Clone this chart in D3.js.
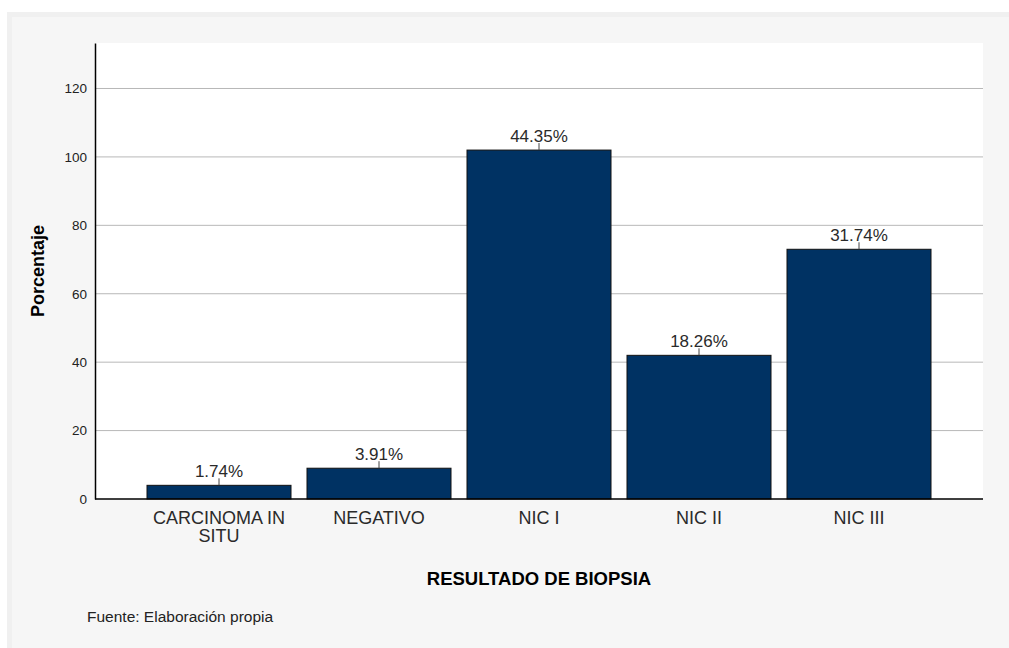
<!DOCTYPE html>
<html>
<head>
<meta charset="utf-8">
<script src="https://cdn.jsdelivr.net/npm/d3@7"></script>
<style>
body { margin: 0; background: #fff; }
svg text { font-family: "Liberation Sans", Arial, sans-serif; fill: #2a2a2a; }
</style>
</head>
<body>
<svg width="1009" height="648"></svg>
<script>
// data (counts, percentages shown as labels)
var categories = ["CARCINOMA IN SITU", "NEGATIVO", "NIC I", "NIC II", "NIC III"];
var counts = [4, 9, 102, 42, 73];
var pctLabels = ["1.74%", "3.91%", "44.35%", "18.26%", "31.74%"];
var yTicks = [0, 20, 40, 60, 80, 100, 120];

var svg = d3.select("svg"),
    plotL = 95, plotR = 983, plotT = 43, plotB = 499;

// outer panel
svg.append("rect").attr("x", 7).attr("y", 12).attr("width", 1002).attr("height", 636)
  .attr("fill", "#f0f0f0");
svg.append("rect").attr("x", 12).attr("y", 17).attr("width", 997).attr("height", 631)
  .attr("fill", "#f6f6f6");
// plot area
svg.append("rect").attr("x", plotL).attr("y", plotT).attr("width", plotR - plotL).attr("height", plotB - plotT)
  .attr("fill", "#fff");

var x = d3.scaleBand().domain(categories).range([plotL, plotR]).paddingInner(0.1).paddingOuter(0.325);
var y = d3.scaleLinear().domain([0, 133.3]).range([plotB, plotT]);

// grid lines
svg.append("g").selectAll("line").data(yTicks.filter(function(d) { return d > 0; }))
  .enter().append("line")
  .attr("x1", plotL).attr("x2", plotR)
  .attr("y1", function(d) { return y(d); }).attr("y2", function(d) { return y(d); })
  .attr("stroke", "#b8b8b8").attr("stroke-width", 1);

var data = categories.map(function(c, i) { return {cat: c, n: counts[i], lab: pctLabels[i]}; });

svg.append("g").selectAll("rect").data(data).enter().append("rect")
  .attr("x", function(d) { return x(d.cat); })
  .attr("y", function(d) { return y(d.n); })
  .attr("width", x.bandwidth())
  .attr("height", function(d) { return plotB - y(d.n); })
  .attr("fill", "#003263").attr("stroke", "#111").attr("stroke-width", 1);

// connectors + value labels
svg.append("g").selectAll("line").data(data).enter().append("line")
  .attr("x1", function(d) { return x(d.cat) + x.bandwidth() / 2; })
  .attr("x2", function(d) { return x(d.cat) + x.bandwidth() / 2; })
  .attr("y1", function(d) { return y(d.n) - 7; })
  .attr("y2", function(d) { return y(d.n); })
  .attr("stroke", "#444");
svg.append("g").selectAll("text").data(data).enter().append("text")
  .attr("x", function(d) { return x(d.cat) + x.bandwidth() / 2; })
  .attr("y", function(d) { return y(d.n) - 8; })
  .attr("text-anchor", "middle").attr("font-size", 17)
  .text(function(d) { return d.lab; });

// y axis
var yAxis = svg.append("g").attr("transform", "translate(" + plotL + ",0)")
  .call(d3.axisLeft(y).tickValues(yTicks).tickSize(0).tickPadding(8));
yAxis.select(".domain").attr("stroke", "#000").attr("stroke-width", 1.5);
yAxis.selectAll("text").attr("font-size", 13.5).style("fill", "#222")
  .style("font-family", "'Liberation Sans', Arial, sans-serif");

// x axis
var xAxis = svg.append("g").attr("transform", "translate(0," + plotB + ")")
  .call(d3.axisBottom(x).tickSize(0).tickPadding(0));
xAxis.select(".domain").attr("d", "M" + plotL + ",0H" + plotR).attr("stroke", "#000").attr("stroke-width", 1.5);
xAxis.selectAll("text").remove();
xAxis.selectAll(".tick").each(function(d) {
  var t = d3.select(this).append("text").attr("text-anchor", "middle")
    .attr("font-size", 18).style("fill", "#2a2a2a")
    .style("font-family", "'Liberation Sans', Arial, sans-serif");
  var words = d.split(" "), lines = [];
  if (words.length > 2) { lines = [words.slice(0, 2).join(" "), words.slice(2).join(" ")]; }
  else lines = [d];
  lines.forEach(function(l, i) {
    t.append("tspan").attr("x", 0).attr("y", 25 + i * 18).text(l);
  });
});

// titles
svg.append("text").attr("x", (plotL + plotR) / 2).attr("y", 585)
  .attr("text-anchor", "middle").attr("font-size", 18.5).attr("font-weight", "bold")
  .style("fill", "#000").text("RESULTADO DE BIOPSIA");
svg.append("text").attr("transform", "translate(44," + ((plotT + plotB) / 2) + ") rotate(-90)")
  .attr("text-anchor", "middle").attr("font-size", 18).attr("font-weight", "bold")
  .style("fill", "#000").text("Porcentaje");
svg.append("text").attr("x", 87).attr("y", 622).attr("font-size", 15.5)
  .style("fill", "#222").text("Fuente: Elaboración propia");
</script>
</body>
</html>
